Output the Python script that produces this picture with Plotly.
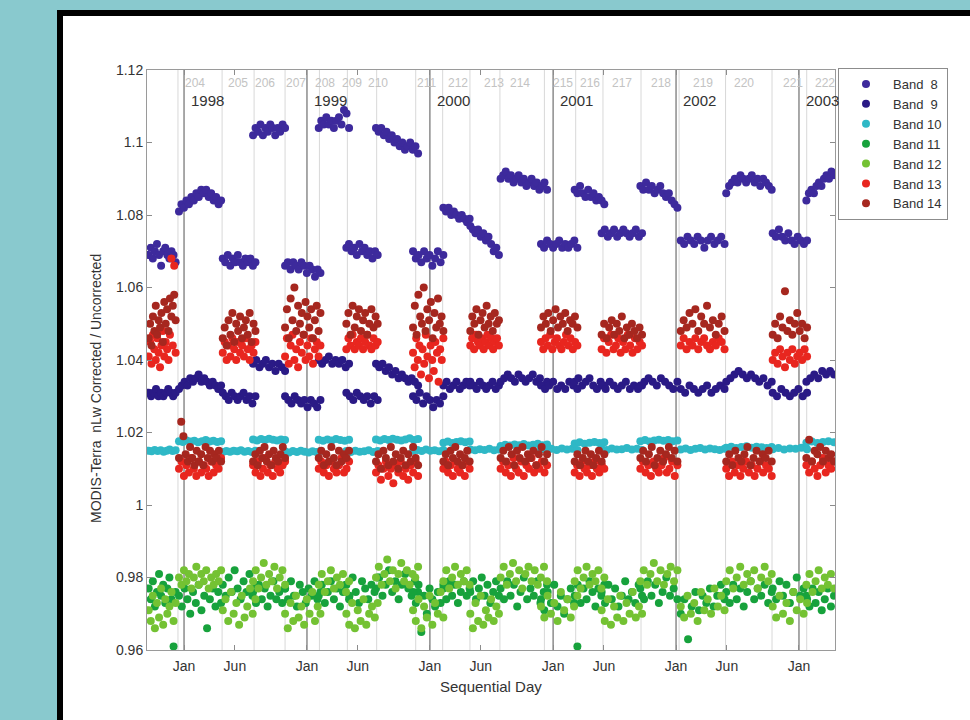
import numpy as np
import plotly.graph_objects as go

# ---------------- data ----------------
# deployment segments (sequential day, day 0 = 1 Jan 1998)
seg_start = [-105, -15, 115, 205, 300, 400, 482, 570, 680, 770, 850, 940, 1060, 1160, 1240, 1355, 1475, 1610, 1748, 1848]
seg_end   = [-25, 110, 212, 300, 405, 490, 575, 695, 770, 848, 935, 1078, 1168, 1248, 1360, 1465, 1605, 1745, 1850, 1930]

band8 = [
    [1.069, 1.071, 1.068, 1.070, 1.072, 1.069, 1.066, 1.070, 1.071, 1.069, 1.068, 1.070, 1.069, 1.067],
    [1.081, 1.083, 1.082, 1.084, 1.083, 1.085, 1.084, 1.086, 1.085, 1.087, 1.086, 1.087, 1.085, 1.086, 1.084, 1.085, 1.083, 1.084],
    [1.068, 1.067, 1.069, 1.066, 1.068, 1.067, 1.069, 1.067, 1.066, 1.068, 1.067, 1.068, 1.066, 1.067],
    [1.102, 1.104, 1.103, 1.105, 1.102, 1.104, 1.103, 1.105, 1.104, 1.102, 1.104, 1.103, 1.105, 1.104],
    [1.066, 1.067, 1.065, 1.067, 1.066, 1.065, 1.067, 1.066, 1.064, 1.066, 1.065, 1.063, 1.065, 1.064],
    [1.104, 1.106, 1.105, 1.107, 1.105, 1.106, 1.104, 1.106, 1.107, 1.105, 1.109, 1.108, 1.104],
    [1.071, 1.072, 1.070, 1.071, 1.069, 1.072, 1.070, 1.071, 1.069, 1.070, 1.068, 1.070, 1.069],
    [1.104, 1.103, 1.104, 1.102, 1.103, 1.101, 1.102, 1.100, 1.101, 1.099, 1.100, 1.098, 1.099, 1.100, 1.098, 1.099, 1.097],
    [1.070, 1.068, 1.069, 1.067, 1.070, 1.068, 1.069, 1.066, 1.068, 1.070, 1.067, 1.069],
    [1.082, 1.081, 1.082, 1.080, 1.081, 1.080, 1.079, 1.080, 1.079, 1.078, 1.079],
    [1.077, 1.076, 1.075, 1.076, 1.074, 1.075, 1.073, 1.074, 1.072, 1.070, 1.071, 1.069],
    [1.090, 1.091, 1.092, 1.090, 1.091, 1.089, 1.090, 1.091, 1.089, 1.090, 1.088, 1.089, 1.090, 1.088, 1.089, 1.087, 1.088, 1.089, 1.087],
    [1.072, 1.071, 1.073, 1.072, 1.071, 1.072, 1.073, 1.071, 1.072, 1.071, 1.072, 1.073, 1.071],
    [1.087, 1.086, 1.088, 1.086, 1.085, 1.087, 1.085, 1.086, 1.084, 1.085, 1.084, 1.083],
    [1.075, 1.076, 1.074, 1.075, 1.076, 1.074, 1.075, 1.076, 1.075, 1.074, 1.075, 1.076, 1.074, 1.075],
    [1.088, 1.087, 1.089, 1.087, 1.088, 1.086, 1.087, 1.088, 1.086, 1.085, 1.086, 1.084, 1.083, 1.082],
    [1.073, 1.072, 1.074, 1.073, 1.072, 1.074, 1.073, 1.071, 1.073, 1.074, 1.072, 1.073, 1.074, 1.072],
    [1.086, 1.088, 1.089, 1.090, 1.089, 1.091, 1.090, 1.089, 1.090, 1.091, 1.089, 1.090, 1.088, 1.090, 1.089, 1.088, 1.087],
    [1.075, 1.074, 1.076, 1.074, 1.073, 1.075, 1.073, 1.072, 1.074, 1.073, 1.072, 1.073],
    [1.084, 1.086, 1.087, 1.086, 1.088, 1.089, 1.088, 1.090, 1.091, 1.090, 1.092, 1.091],
]

band9 = [
    [1.031, 1.030, 1.031, 1.032, 1.030, 1.031, 1.030, 1.031, 1.032, 1.031, 1.030, 1.031],
    [1.032, 1.033, 1.034, 1.033, 1.035, 1.034, 1.035, 1.036, 1.034, 1.035, 1.034, 1.033, 1.034, 1.033, 1.032, 1.033],
    [1.031, 1.030, 1.029, 1.031, 1.030, 1.029, 1.030, 1.031, 1.029, 1.030, 1.028, 1.030],
    [1.039, 1.040, 1.038, 1.039, 1.040, 1.038, 1.039, 1.037, 1.039, 1.038, 1.037],
    [1.030, 1.029, 1.028, 1.030, 1.029, 1.028, 1.029, 1.027, 1.029, 1.028, 1.027, 1.029],
    [1.040, 1.039, 1.040, 1.041, 1.039, 1.040, 1.039, 1.040, 1.038, 1.039],
    [1.031, 1.030, 1.029, 1.031, 1.030, 1.029, 1.030, 1.028, 1.030, 1.029],
    [1.039, 1.038, 1.039, 1.037, 1.038, 1.036, 1.037, 1.035, 1.036, 1.035, 1.034, 1.035, 1.034, 1.033],
    [1.030, 1.029, 1.031, 1.028, 1.030, 1.029, 1.027, 1.029, 1.028, 1.030],
    [1.033, 1.034, 1.032, 1.033, 1.034, 1.032, 1.033, 1.034, 1.033],
    [1.034, 1.033, 1.032, 1.034, 1.033, 1.032, 1.033, 1.034, 1.032, 1.033],
    [1.034, 1.035, 1.036, 1.035, 1.034, 1.036, 1.035, 1.034, 1.035, 1.036, 1.034, 1.035, 1.033, 1.034],
    [1.033, 1.032, 1.033, 1.034, 1.032, 1.033, 1.032, 1.034, 1.033, 1.032],
    [1.034, 1.035, 1.033, 1.034, 1.035, 1.033, 1.032, 1.034, 1.033],
    [1.033, 1.032, 1.034, 1.033, 1.032, 1.033, 1.034, 1.032, 1.033, 1.032, 1.033],
    [1.033, 1.034, 1.035, 1.034, 1.033, 1.035, 1.034, 1.033, 1.032, 1.034],
    [1.032, 1.031, 1.033, 1.032, 1.031, 1.032, 1.033, 1.031, 1.032, 1.033, 1.032],
    [1.034, 1.035, 1.036, 1.037, 1.036, 1.035, 1.036, 1.035, 1.034, 1.035, 1.033, 1.034],
    [1.031, 1.030, 1.032, 1.031, 1.030, 1.031, 1.032, 1.030, 1.031],
    [1.034, 1.035, 1.036, 1.035, 1.037, 1.036, 1.037, 1.036],
]

band10 = [
    [1.0150, 1.0148, 1.0152, 1.0149, 1.0151, 1.0147, 1.0150, 1.0153, 1.0149, 1.0151],
    [1.0176, 1.0174, 1.0178, 1.0175, 1.0177, 1.0173, 1.0176, 1.0179, 1.0175, 1.0177, 1.0174, 1.0176],
    [1.0146, 1.0149, 1.0147, 1.0150, 1.0148, 1.0151, 1.0147, 1.0149, 1.0146, 1.0150],
    [1.0181, 1.0178, 1.0182, 1.0179, 1.0183, 1.0180, 1.0178, 1.0181, 1.0179],
    [1.0148, 1.0145, 1.0149, 1.0146, 1.0150, 1.0147, 1.0145, 1.0148, 1.0146, 1.0149],
    [1.0180, 1.0177, 1.0181, 1.0178, 1.0182, 1.0179, 1.0177, 1.0180],
    [1.0149, 1.0146, 1.0150, 1.0147, 1.0148, 1.0151, 1.0146, 1.0149],
    [1.0181, 1.0178, 1.0182, 1.0179, 1.0183, 1.0180, 1.0178, 1.0181, 1.0184, 1.0179, 1.0182],
    [1.0150, 1.0152, 1.0149, 1.0153, 1.0150, 1.0151, 1.0148, 1.0152],
    [1.0172, 1.0175, 1.0171, 1.0174, 1.0176, 1.0173, 1.0175],
    [1.0153, 1.0151, 1.0154, 1.0152, 1.0155, 1.0151, 1.0153],
    [1.0163, 1.0166, 1.0164, 1.0167, 1.0165, 1.0168, 1.0164, 1.0166, 1.0169, 1.0165, 1.0167],
    [1.0154, 1.0151, 1.0155, 1.0152, 1.0156, 1.0153, 1.0155, 1.0152],
    [1.0170, 1.0173, 1.0169, 1.0172, 1.0174, 1.0171, 1.0173],
    [1.0155, 1.0152, 1.0156, 1.0153, 1.0154, 1.0157, 1.0153, 1.0155, 1.0152],
    [1.0176, 1.0179, 1.0175, 1.0178, 1.0180, 1.0177, 1.0179, 1.0176, 1.0178],
    [1.0153, 1.0156, 1.0152, 1.0155, 1.0157, 1.0153, 1.0156, 1.0154, 1.0152, 1.0155],
    [1.0158, 1.0161, 1.0157, 1.0160, 1.0162, 1.0158, 1.0161, 1.0159, 1.0157, 1.0160],
    [1.0154, 1.0157, 1.0153, 1.0156, 1.0155, 1.0158, 1.0154],
    [1.0172, 1.0175, 1.0171, 1.0174, 1.0176, 1.0173],
]

band11 = [
    [0.977, 0.974, 0.979, 0.972, 0.976, 0.981, 0.975, 0.978, 0.973, 0.977, 0.980, 0.974, 0.961, 0.976],
    [0.975, 0.972, 0.977, 0.974, 0.970, 0.976, 0.973, 0.978, 0.971, 0.975, 0.966, 0.974, 0.977, 0.972, 0.976, 0.973],
    [0.978, 0.975, 0.980, 0.976, 0.982, 0.977, 0.974, 0.979, 0.976, 0.981, 0.975, 0.978],
    [0.976, 0.973, 0.978, 0.974, 0.977, 0.972, 0.975, 0.979, 0.974, 0.976, 0.973, 0.977],
    [0.977, 0.974, 0.979, 0.975, 0.972, 0.978, 0.976, 0.973, 0.977, 0.975, 0.979, 0.974, 0.976],
    [0.975, 0.978, 0.973, 0.976, 0.979, 0.974, 0.977, 0.972, 0.976, 0.978, 0.974],
    [0.978, 0.975, 0.980, 0.976, 0.973, 0.979, 0.977, 0.974, 0.978, 0.976, 0.980],
    [0.977, 0.980, 0.975, 0.978, 0.982, 0.976, 0.979, 0.974, 0.978, 0.981, 0.977, 0.975, 0.979, 0.976],
    [0.976, 0.973, 0.978, 0.965, 0.975, 0.970, 0.977, 0.974, 0.972, 0.976, 0.973, 0.978],
    [0.977, 0.974, 0.979, 0.975, 0.978, 0.973, 0.976, 0.979, 0.975, 0.977],
    [0.976, 0.979, 0.974, 0.977, 0.980, 0.975, 0.978, 0.973, 0.976, 0.979, 0.975],
    [0.977, 0.974, 0.979, 0.975, 0.978, 0.972, 0.976, 0.980, 0.974, 0.977, 0.975, 0.979, 0.973, 0.976, 0.978],
    [0.974, 0.971, 0.976, 0.973, 0.978, 0.972, 0.975, 0.970, 0.974, 0.977, 0.973, 0.961],
    [0.975, 0.978, 0.973, 0.977, 0.974, 0.979, 0.976, 0.972, 0.977, 0.975, 0.978],
    [0.976, 0.973, 0.978, 0.974, 0.977, 0.972, 0.975, 0.979, 0.974, 0.976, 0.973, 0.978, 0.975],
    [0.977, 0.974, 0.979, 0.975, 0.978, 0.973, 0.976, 0.980, 0.975, 0.977, 0.974],
    [0.970, 0.974, 0.963, 0.972, 0.976, 0.971, 0.975, 0.973, 0.977, 0.972, 0.975, 0.978, 0.974],
    [0.976, 0.973, 0.978, 0.974, 0.977, 0.972, 0.976, 0.979, 0.974, 0.977, 0.975, 0.978, 0.973, 0.976],
    [0.977, 0.974, 0.979, 0.975, 0.978, 0.973, 0.976, 0.980, 0.975, 0.977, 0.974],
    [0.975, 0.972, 0.977, 0.973, 0.976, 0.971, 0.974, 0.977, 0.972, 0.975],
]

band12 = [
    [0.971, 0.968, 0.975, 0.966, 0.973, 0.969, 0.977, 0.967, 0.974, 0.970, 0.972, 0.976, 0.968, 0.973],
    [0.980, 0.978, 0.982, 0.979, 0.981, 0.977, 0.980, 0.983, 0.978, 0.981, 0.979, 0.982, 0.977, 0.980, 0.978, 0.981, 0.979, 0.982],
    [0.971, 0.974, 0.968, 0.976, 0.970, 0.973, 0.967, 0.975, 0.969, 0.972, 0.977, 0.970, 0.974],
    [0.979, 0.982, 0.977, 0.980, 0.984, 0.978, 0.981, 0.979, 0.983, 0.977, 0.980, 0.982, 0.978],
    [0.970, 0.966, 0.973, 0.968, 0.975, 0.969, 0.972, 0.967, 0.974, 0.970, 0.976, 0.968, 0.972, 0.970],
    [0.978, 0.981, 0.976, 0.979, 0.982, 0.977, 0.980, 0.978, 0.981, 0.976, 0.979],
    [0.970, 0.967, 0.973, 0.966, 0.971, 0.968, 0.974, 0.967, 0.970, 0.972, 0.969, 0.973],
    [0.980, 0.983, 0.978, 0.981, 0.985, 0.979, 0.982, 0.977, 0.981, 0.984, 0.979, 0.982, 0.978, 0.981, 0.980, 0.983],
    [0.971, 0.968, 0.974, 0.966, 0.972, 0.969, 0.975, 0.967, 0.973, 0.970, 0.976, 0.969],
    [0.979, 0.982, 0.977, 0.980, 0.983, 0.978, 0.981, 0.979, 0.982, 0.978],
    [0.970, 0.966, 0.973, 0.968, 0.975, 0.967, 0.971, 0.969, 0.974, 0.968, 0.972, 0.970],
    [0.980, 0.983, 0.978, 0.981, 0.984, 0.979, 0.982, 0.977, 0.981, 0.983, 0.979, 0.982, 0.978, 0.980, 0.983, 0.979],
    [0.972, 0.969, 0.975, 0.970, 0.973, 0.968, 0.976, 0.971, 0.974, 0.969, 0.972, 0.975],
    [0.979, 0.982, 0.977, 0.980, 0.983, 0.978, 0.981, 0.979, 0.982, 0.977, 0.980],
    [0.971, 0.968, 0.974, 0.967, 0.972, 0.969, 0.975, 0.968, 0.973, 0.970, 0.976, 0.969, 0.972, 0.970],
    [0.979, 0.982, 0.978, 0.981, 0.984, 0.979, 0.982, 0.978, 0.981, 0.983, 0.979, 0.982],
    [0.972, 0.969, 0.975, 0.970, 0.973, 0.968, 0.976, 0.971, 0.974, 0.970, 0.977, 0.972, 0.975, 0.971],
    [0.979, 0.982, 0.977, 0.980, 0.983, 0.978, 0.981, 0.979, 0.982, 0.977, 0.980, 0.983, 0.979, 0.981],
    [0.972, 0.969, 0.975, 0.970, 0.973, 0.968, 0.976, 0.971, 0.974, 0.970, 0.973],
    [0.978, 0.981, 0.976, 0.979, 0.982, 0.977, 0.980, 0.978, 0.981, 0.977],
]

band13 = [
    [1.041, 1.045, 1.039, 1.047, 1.043, 1.040, 1.046, 1.042, 1.038, 1.044, 1.048, 1.041, 1.045, 1.043, 1.040, 1.047, 1.068, 1.044, 1.066, 1.042],
    [1.010, 1.012, 1.008, 1.011, 1.009, 1.013, 1.010, 1.008, 1.012, 1.009, 1.011, 1.010, 1.008, 1.012, 1.009, 1.011, 1.010, 1.013],
    [1.042, 1.045, 1.040, 1.044, 1.041, 1.046, 1.043, 1.040, 1.045, 1.042, 1.044, 1.041, 1.046, 1.043, 1.040, 1.044, 1.042, 1.045],
    [1.011, 1.009, 1.012, 1.008, 1.010, 1.013, 1.009, 1.011, 1.008, 1.012, 1.010, 1.009, 1.011, 1.012],
    [1.041, 1.046, 1.039, 1.044, 1.047, 1.040, 1.043, 1.038, 1.045, 1.042, 1.047, 1.040, 1.044, 1.041, 1.046, 1.039, 1.043, 1.045, 1.041, 1.044],
    [1.010, 1.012, 1.009, 1.011, 1.008, 1.012, 1.010, 1.009, 1.011, 1.013, 1.009, 1.010, 1.012],
    [1.043, 1.046, 1.044, 1.047, 1.043, 1.045, 1.044, 1.046, 1.043, 1.045, 1.047, 1.044, 1.043, 1.046, 1.044, 1.045],
    [1.009, 1.011, 1.007, 1.010, 1.012, 1.008, 1.010, 1.006, 1.011, 1.009, 1.012, 1.008, 1.010, 1.007, 1.011, 1.009, 1.012, 1.008],
    [1.042, 1.038, 1.046, 1.040, 1.044, 1.036, 1.043, 1.039, 1.047, 1.041, 1.035, 1.044, 1.040, 1.037, 1.045, 1.042, 1.034, 1.043, 1.040, 1.046],
    [1.010, 1.012, 1.009, 1.011, 1.008, 1.012, 1.010, 1.009, 1.011, 1.008, 1.012, 1.010],
    [1.044, 1.046, 1.043, 1.047, 1.045, 1.044, 1.046, 1.043, 1.045, 1.047, 1.044, 1.046, 1.043, 1.045, 1.046, 1.044],
    [1.010, 1.012, 1.009, 1.011, 1.008, 1.013, 1.010, 1.009, 1.012, 1.008, 1.011, 1.010, 1.013, 1.009, 1.011, 1.010, 1.012, 1.009, 1.011],
    [1.045, 1.043, 1.046, 1.044, 1.047, 1.043, 1.045, 1.046, 1.044, 1.043, 1.045, 1.047, 1.044, 1.046, 1.043, 1.045, 1.044],
    [1.009, 1.011, 1.008, 1.012, 1.010, 1.009, 1.011, 1.008, 1.012, 1.010, 1.009, 1.011, 1.010],
    [1.043, 1.046, 1.042, 1.045, 1.047, 1.043, 1.044, 1.046, 1.042, 1.045, 1.043, 1.047, 1.044, 1.042, 1.046, 1.043, 1.045, 1.044],
    [1.010, 1.012, 1.009, 1.011, 1.008, 1.012, 1.010, 1.009, 1.011, 1.013, 1.009, 1.010, 1.012, 1.008, 1.011],
    [1.044, 1.046, 1.043, 1.045, 1.044, 1.046, 1.043, 1.045, 1.046, 1.044, 1.043, 1.045, 1.044, 1.046, 1.045, 1.043],
    [1.010, 1.008, 1.012, 1.009, 1.011, 1.008, 1.010, 1.012, 1.009, 1.011, 1.008, 1.010, 1.012, 1.009, 1.011, 1.010, 1.008],
    [1.040, 1.042, 1.039, 1.043, 1.041, 1.038, 1.042, 1.040, 1.043, 1.039, 1.041, 1.042, 1.040, 1.043, 1.041],
    [1.011, 1.009, 1.012, 1.010, 1.008, 1.011, 1.013, 1.009, 1.011, 1.010, 1.012],
]

band14 = [
    [1.046, 1.050, 1.044, 1.052, 1.048, 1.055, 1.047, 1.051, 1.049, 1.053, 1.045, 1.056, 1.050, 1.054, 1.048, 1.057, 1.052, 1.055, 1.058, 1.051],
    [1.013, 1.023, 1.019, 1.014, 1.012, 1.016, 1.013, 1.011, 1.015, 1.012, 1.014, 1.011, 1.016, 1.013, 1.015, 1.012, 1.014, 1.013, 1.015, 1.012],
    [1.046, 1.049, 1.044, 1.051, 1.047, 1.053, 1.045, 1.050, 1.048, 1.052, 1.046, 1.049, 1.051, 1.047, 1.053, 1.045, 1.050, 1.048],
    [1.012, 1.014, 1.011, 1.015, 1.013, 1.016, 1.012, 1.014, 1.011, 1.015, 1.013, 1.012, 1.014, 1.016, 1.013],
    [1.049, 1.054, 1.046, 1.057, 1.051, 1.060, 1.048, 1.055, 1.050, 1.053, 1.047, 1.056, 1.052, 1.049, 1.054, 1.046, 1.051, 1.055, 1.048, 1.053],
    [1.013, 1.015, 1.011, 1.014, 1.012, 1.016, 1.013, 1.011, 1.015, 1.012, 1.014, 1.013, 1.015],
    [1.050, 1.053, 1.047, 1.055, 1.049, 1.052, 1.054, 1.048, 1.051, 1.053, 1.047, 1.050, 1.054, 1.049, 1.052, 1.050],
    [1.012, 1.014, 1.010, 1.015, 1.013, 1.011, 1.016, 1.012, 1.014, 1.010, 1.013, 1.015, 1.011, 1.014, 1.012, 1.016, 1.013, 1.011],
    [1.049, 1.055, 1.047, 1.058, 1.052, 1.050, 1.060, 1.048, 1.054, 1.051, 1.056, 1.046, 1.053, 1.049, 1.057, 1.050, 1.052, 1.048],
    [1.012, 1.014, 1.011, 1.015, 1.013, 1.016, 1.012, 1.014, 1.011, 1.013, 1.015, 1.012],
    [1.048, 1.052, 1.050, 1.054, 1.047, 1.051, 1.053, 1.049, 1.055, 1.050, 1.052, 1.048, 1.053, 1.050, 1.051],
    [1.013, 1.015, 1.012, 1.016, 1.014, 1.011, 1.015, 1.013, 1.016, 1.012, 1.014, 1.013, 1.015, 1.011, 1.014, 1.016, 1.012, 1.014],
    [1.049, 1.052, 1.050, 1.053, 1.048, 1.051, 1.054, 1.049, 1.052, 1.050, 1.053, 1.048, 1.051, 1.050, 1.052, 1.049],
    [1.012, 1.014, 1.011, 1.013, 1.015, 1.012, 1.014, 1.011, 1.013, 1.015, 1.012, 1.014],
    [1.047, 1.050, 1.046, 1.049, 1.051, 1.047, 1.050, 1.048, 1.052, 1.046, 1.049, 1.047, 1.050, 1.048, 1.046, 1.049, 1.047],
    [1.013, 1.015, 1.012, 1.014, 1.016, 1.011, 1.013, 1.015, 1.012, 1.014, 1.016, 1.013, 1.015, 1.012],
    [1.048, 1.051, 1.049, 1.053, 1.050, 1.054, 1.048, 1.052, 1.050, 1.055, 1.049, 1.051, 1.047, 1.050, 1.052, 1.048],
    [1.012, 1.014, 1.011, 1.015, 1.013, 1.012, 1.014, 1.016, 1.011, 1.013, 1.015, 1.012, 1.014, 1.013, 1.015, 1.012],
    [1.047, 1.050, 1.046, 1.052, 1.049, 1.059, 1.048, 1.051, 1.047, 1.050, 1.053, 1.048, 1.050, 1.046, 1.049],
    [1.013, 1.018, 1.012, 1.015, 1.014, 1.016, 1.012, 1.015, 1.013, 1.014, 1.012],
]

band_names = ["Band\u00a0 8", "Band\u00a0 9", "Band 10", "Band 11", "Band 12", "Band 13", "Band 14"]
band_colors = ["#3d2a9c", "#2a1a86", "#2fb8c6", "#17a23c", "#74c233", "#e8261f", "#a6271f"]

# axis ticks
x_tickvals = [0, 151, 365, 516, 730, 881, 1096, 1247, 1461, 1612, 1826]
x_ticktext = ["Jan", "Jun", "Jan", "Jun", "Jan", "Jun", "Jan", "Jun", "Jan", "Jun", "Jan"]
y_tickvals = [0.96, 0.98, 1.0, 1.02, 1.04, 1.06, 1.08, 1.1, 1.12]
y_ticktext = ["0.96", "0.98", "1", "1.02", "1.04", "1.06", "1.08", "1.1", "1.12"]

# year boundaries and labels
year_days = [0, 365, 730, 1096, 1461, 1826]
year_labels = ["1998", "1999", "2000", "2001", "2002", "2003"]

# deployment boundaries and cycle numbers
cycle_line_days = [-18, 113, 208, 300, 402, 485, 572, 688, 768, 849, 938, 1070, 1163, 1244, 1357, 1470, 1608, 1746, 1849]
cycle_labels = ["204", "205", "206", "207", "208", "209", "210", "211", "212", "213",
                "214", "215", "216", "217", "218", "219", "220", "221", "222"]
cycle_label_days = [33, 160, 240, 333, 419, 499, 576, 721, 814, 920, 998, 1125, 1205, 1300, 1416, 1541, 1663, 1808, 1903]

# ---------------- figure ----------------
FONT = "Liberation Sans, Arial, Helvetica, sans-serif"
fig = go.Figure()

all_bands = [band8, band9, band10, band11, band12, band13, band14]
for name, color, data in zip(band_names, band_colors, all_bands):
    xs, ys = [], []
    for s, e, vals in zip(seg_start, seg_end, data):
        xs.extend(np.linspace(s, e, len(vals)).tolist())
        ys.extend(vals)
    fig.add_trace(go.Scatter(x=xs, y=ys, mode="markers", name=name,
                             marker=dict(color=color, size=8, line=dict(width=0)),
                             cliponaxis=True))

# plot area in pixels: x 147..835, y 70..650
L, R, T, B = 147, 835, 70, 650
W, H = R - L, B - T
def px(xp):
    return (xp - L) / W
def py(yp):
    return (B - yp) / H

shapes = []
# slide frame
shapes.append(dict(type="rect", xref="paper", yref="paper",
                   x0=px(60), x1=px(1000), y0=py(760), y1=py(13),
                   fillcolor="white", line=dict(color="black", width=6), layer="below"))
for d in cycle_line_days:
    shapes.append(dict(type="line", xref="x", yref="paper", x0=d, x1=d, y0=0, y1=1,
                       line=dict(color="#d8d8d8", width=1), layer="below"))
for d in year_days:
    shapes.append(dict(type="line", xref="x", yref="paper", x0=d, x1=d, y0=0, y1=1,
                       line=dict(color="#8c8c8c", width=1.5), layer="below"))

annotations = []
for lab, d in zip(cycle_labels, cycle_label_days):
    annotations.append(dict(x=d, y=py(83), xref="x", yref="paper", text=lab, showarrow=False,
                            font=dict(family=FONT, size=12, color="#c3c3c3"),
                            xanchor="center", yanchor="middle"))
for lab, d in zip(year_labels, year_days):
    annotations.append(dict(x=d + 14, y=py(100), xref="x", yref="paper", text=lab, showarrow=False,
                            font=dict(family=FONT, size=15, color="#333333"),
                            xanchor="left", yanchor="middle"))
annotations.append(dict(x=px(96), y=py(389), xref="paper", yref="paper",
                        text="MODIS-Terra  nLw Corrected / Uncorrected", textangle=-90,
                        showarrow=False, font=dict(family=FONT, size=14, color="#333333"),
                        xanchor="center", yanchor="middle"))
annotations.append(dict(x=px(491), y=py(686), xref="paper", yref="paper",
                        text="Sequential Day", showarrow=False,
                        font=dict(family=FONT, size=15, color="#333333"),
                        xanchor="center", yanchor="middle"))

fig.update_layout(
    width=970, height=720,
    margin=dict(l=L, r=970 - R, t=T, b=720 - B),
    paper_bgcolor="#89c9ce",
    plot_bgcolor="rgba(0,0,0,0)",
    font=dict(family=FONT, size=12, color="#333333"),
    shapes=shapes,
    annotations=annotations,
    showlegend=True,
    legend=dict(x=px(838), y=py(68), xanchor="left", yanchor="top",
                bgcolor="white", bordercolor="#8c8c8c", borderwidth=1,
                font=dict(family=FONT, size=13, color="#333333"),
                tracegroupgap=0, itemsizing="trace", itemwidth=44),
    xaxis=dict(range=[-110, 1933], tickvals=x_tickvals, ticktext=x_ticktext,
               showgrid=False, zeroline=False, showline=True, linecolor="#9a9a9a", linewidth=1,
               mirror="ticks", ticks="inside", ticklen=5, tickcolor="#8c8c8c",
               ticklabelstandoff=3,
               tickfont=dict(family=FONT, size=14, color="#333333")),
    yaxis=dict(range=[0.96, 1.12], tickvals=y_tickvals, ticktext=y_ticktext,
               showgrid=False, zeroline=False, showline=True, linecolor="#9a9a9a", linewidth=1,
               mirror="ticks", ticks="inside", ticklen=5, tickcolor="#8c8c8c",
               tickfont=dict(family=FONT, size=14, color="#333333")),
)

fig.write_html("out.html")
